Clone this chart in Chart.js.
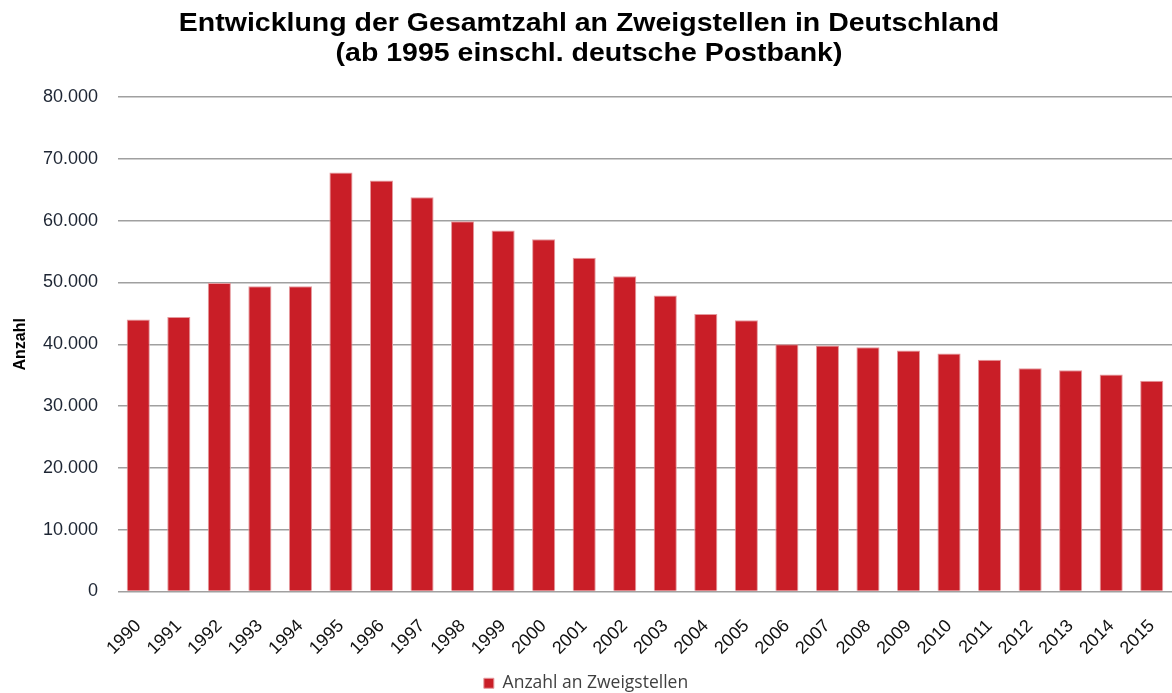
<!DOCTYPE html>
<html>
<head>
<meta charset="utf-8">
<script src="https://cdn.jsdelivr.net/npm/chart.js@4"></script>
<style>
  body { margin: 0; background: #fff; }
  #wrap { width: 1172px; height: 693px; }
</style>
</head>
<body>
<div id="wrap"><canvas id="myChart" width="1172" height="693"></canvas></div>
<script>
var years = ["1990","1991","1992","1993","1994","1995","1996","1997","1998","1999","2000","2001","2002",
  "2003","2004","2005","2006","2007","2008","2009","2010","2011","2012","2013","2014","2015"];
var branches = [44000, 44400, 49900, 49400, 49400, 67800, 66500, 63800, 59900, 58400, 57000, 54000, 51000,
  47900, 44900, 43900, 40000, 39800, 39500, 39000, 38500, 37500, 36100, 35800, 35100, 34100];
var yTicks = [0, 10000, 20000, 30000, 40000, 50000, 60000, 70000, 80000];
var titleLines = ["Entwicklung der Gesamtzahl an Zweigstellen in Deutschland",
                  "(ab 1995 einschl. deutsche Postbank)"];

function formatDE(v) {
  return String(v).replace(/\B(?=(\d{3})+(?!\d))/g, ".");
}

// title drawn by hand, slightly stretched sideways like the original
var wideTitle = {
  id: 'wideTitle',
  afterDraw: function(chart) {
    var c = chart.ctx;
    c.save();
    c.fillStyle = "#000";
    c.font = "bold 25px 'Liberation Sans', Arial";
    c.textAlign = "center";
    c.textBaseline = "alphabetic";
    c.translate(589, 0);
    c.scale(1.14, 1);
    c.fillText(titleLines[0], 0, 31);
    c.fillText(titleLines[1], 0, 61);
    c.restore();
  }
};

var ctx = document.getElementById("myChart").getContext('2d');
var myChart = new Chart(ctx, {
  type: 'bar',
  data: {
    labels: years,
    datasets: [{
      label: "Anzahl an Zweigstellen",
      data: branches,
      backgroundColor: "#c91e27",
      borderColor: "#e59a9e",
      borderWidth: 1,
      categoryPercentage: 1,
      barPercentage: 0.57
    }]
  },
  plugins: [wideTitle],
  options: {
    responsive: false,
    animation: false,
    layout: { padding: { left: 0, right: 0, top: 97, bottom: -9 } },
    plugins: {
      title: { display: false },
      legend: {
        position: 'bottom',
        labels: {
          boxWidth: 10,
          boxHeight: 10,
          color: "#404040",
          font: { family: "Open Sans, Liberation Sans", size: 17.5 },
          padding: 4
        }
      },
      tooltip: { enabled: false }
    },
    scales: {
      x: {
        grid: { display: false },
        border: { display: false },
        afterFit: function(axis) {
          axis.height = 79;
          axis.paddingRight = 0;
        },
        ticks: {
          color: "#111",
          font: { family: "Liberation Sans, Arial", size: 18 },
          minRotation: 45,
          maxRotation: 45,
          padding: 16
        }
      },
      y: {
        min: 0,
        max: 80000,
        afterBuildTicks: function(axis) {
          axis.ticks = yTicks.map(function(v) { return { value: v }; });
        },
        afterFit: function(axis) { axis.width = 118; },
        grid: { color: "#a0a0a0", lineWidth: 1.5, drawTicks: false },
        border: { display: false },
        title: {
          display: true,
          text: "Anzahl",
          color: "#000",
          font: { family: "Liberation Sans, Arial", size: 16, weight: 'bold' },
          padding: { top: 11, bottom: 0 }
        },
        ticks: {
          color: "#1d2533",
          font: { family: "Liberation Sans, Arial", size: 18 },
          padding: 20,
          callback: function(v) { return formatDE(v); }
        }
      }
    }
  }
});
</script>
</body>
</html>
